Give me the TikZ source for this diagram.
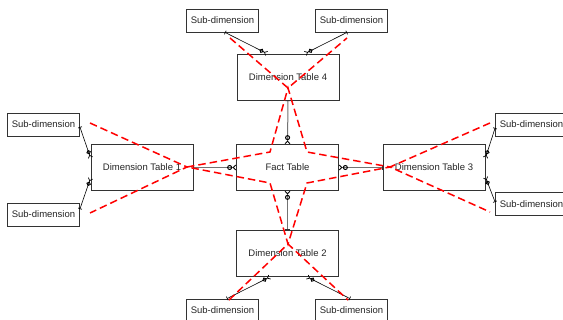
\documentclass[tikz,border=0pt]{standalone}
\usepackage{fontspec}
\setmainfont{Liberation Sans}
\usetikzlibrary{arrows.meta}
\begin{document}
\begin{tikzpicture}[x=1pt,y=-1pt,
  every node/.style={font=\fontsize{9.5pt}{11pt}\selectfont, text=black!85, inner sep=0pt},
  tablebox/.style={draw=black!80, line width=0.8pt, fill=white, minimum width=102pt, minimum height=46pt},
  subbox/.style={draw=black!80, line width=0.8pt, fill=white, minimum width=72pt, minimum height=23pt},
  factlink/.style={draw=black!55, line width=1pt,
    {Bar[width=5pt,line width=0.8pt,black!80]}-{Circle[open,length=5pt,width=5pt,line width=1pt,black,sep=0.5pt]Straight Barb[reversed,length=2.5pt,width=5pt,line width=0.8pt,black]}},
  sublink/.style={draw=black, line width=0.6pt,
    {Bar[width=4pt,line width=0.7pt]}-{Circle[open,length=4.5pt,width=4.5pt,line width=0.9pt,sep=0.5pt]Straight Barb[reversed,length=2.5pt,width=4.5pt,line width=0.7pt]}},
  snow/.style={draw=red, line width=1.5pt, dash pattern=on 7.5pt off 4pt, line join=miter}]
\useasboundingbox (0,0) rectangle (563,320);
\fill[white] (0,0) rectangle (563,320);

% central fact table and the four dimension tables
\node[tablebox] (fact) at (287.5,167.5) {Fact Table};
\node[tablebox] (dim1) at (142,167.5) {Dimension Table 1};
\node[tablebox] (dim2) at (287.5,253.5) {Dimension Table 2};
\node[tablebox] (dim3) at (434,167.5) {Dimension Table 3};
\node[tablebox] (dim4) at (288,77) {Dimension Table 4};

% sub-dimension tables
\node[subbox] (sdT1) at (222.5,20.5) {Sub-dimension};
\node[subbox] (sdT2) at (351.5,20.5) {Sub-dimension};
\node[subbox] (sdL1) at (43.5,124.5) {Sub-dimension};
\node[subbox] (sdL2) at (43.5,214.5) {Sub-dimension};
\node[subbox] (sdR1) at (531.5,124.5) {Sub-dimension};
\node[subbox] (sdR2) at (531.5,204) {Sub-dimension};
\node[subbox] (sdB1) at (222.5,310.5) {Sub-dimension};
\node[subbox] (sdB2) at (351.5,310.5) {Sub-dimension};

% fact-to-dimension relationships
\draw[factlink] (dim1.east) -- (fact.west);
\draw[factlink] (dim3.west) -- (fact.east);
\draw[factlink] (dim4.south) -- (fact.north);
\draw[factlink] (dim2.north) -- (fact.south);

% dimension-to-sub-dimension relationships
\draw[sublink] ([yshift=-2.5pt]sdL1.east) -- ([yshift=9.5pt]dim1.west);
\draw[sublink] ([yshift=5.5pt]sdL2.east) -- ([yshift=-10.5pt]dim1.west);
\draw[sublink] ([yshift=-3.5pt]sdR1.west) -- ([yshift=9.5pt]dim3.east);
\draw[sublink] ([yshift=2pt]sdR2.west) -- ([yshift=-9.5pt]dim3.east);
\draw[sublink] ([xshift=2.5pt]sdT1.south) -- ([xshift=-21pt]dim4.north);
\draw[sublink] ([xshift=-4.5pt]sdT2.south) -- ([xshift=17pt]dim4.north);
\draw[sublink] ([xshift=4.5pt]sdB1.north) -- ([xshift=-17.5pt]dim2.south);
\draw[sublink] ([xshift=-1.5pt]sdB2.north) -- ([xshift=19.5pt]dim2.south);

% snowflake outline
\coordinate (pL) at (187,167);
\coordinate (pT) at (288,88);
\coordinate (pR) at (390,167);
\coordinate (pB) at (288,244);
\coordinate (iTL) at (270,152);
\coordinate (iTR) at (307,152);
\coordinate (iBR) at (307,183);
\coordinate (iBL) at (270,183);
\draw[snow] (pL) -- (iTL) -- (pT) -- (iTR) -- (pR) -- (iBR) -- (pB) -- (iBL) -- cycle;

\coordinate (eL1) at (90,123);
\coordinate (eL2) at (90,213);
\coordinate (eR1) at (490,123);
\coordinate (eR2) at (490,212);
\coordinate (eT1) at (230,38);
\coordinate (eT2) at (347,38);
\coordinate (eB1) at (229,300);
\coordinate (eB2) at (348,300);
\draw[snow] (eL1) -- (pL) -- (eL2);
\draw[snow] (eR1) -- (pR) -- (eR2);
\draw[snow] (eT1) -- (pT) -- (eT2);
\draw[snow] (eB1) -- (pB) -- (eB2);
\end{tikzpicture}
\end{document}
